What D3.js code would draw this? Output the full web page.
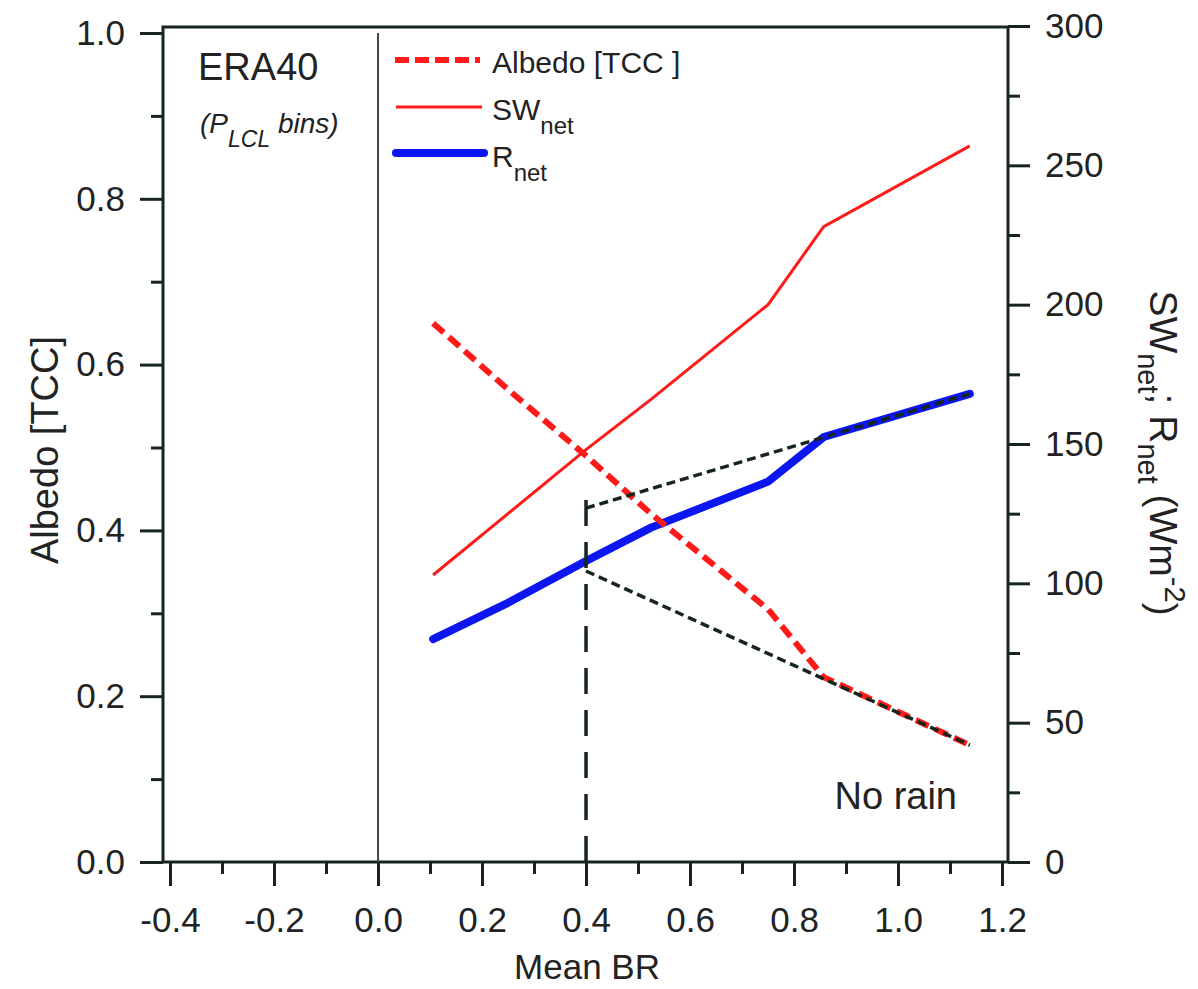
<!DOCTYPE html>
<html>
<head>
<meta charset="utf-8">
<script src="https://cdn.jsdelivr.net/npm/d3@7"></script>
<style>
  body { margin: 0; background: #fff; }
  svg { display: block; }
  text { font-family: "Liberation Sans", Arial, sans-serif; fill: #222; }
</style>
</head>
<body>
<svg id="chart" width="1198" height="989"></svg>
<script>
// ----- Data -----------------------------------------------------------------
var brBins    = [0.106, 0.25, 0.40, 0.525, 0.75, 0.857, 1.138];
var albedoTCC = [0.650, 0.570, 0.490, 0.420, 0.305, 0.223, 0.141];
var swNet     = [103, 125, 148, 166, 200, 228, 257];
var rNet      = [80, 93, 108, 120, 136.5, 152.5, 168];

// black dashed guide lines drawn from the BR = 0.4 split
var guideBR      = [0.40, 1.138];
var guideRnet    = [127, 168];
var guideAlbedo  = [0.351, 0.141];
var splitBR      = 0.4;
var splitTop     = 0.44;   // in albedo units

var xMajor      = [-0.4, -0.2, 0.0, 0.2, 0.4, 0.6, 0.8, 1.0, 1.2];
var xMinor      = [-0.3, -0.1, 0.1, 0.3, 0.5, 0.7, 0.9, 1.1];
var albedoMajor = [0.0, 0.2, 0.4, 0.6, 0.8, 1.0];
var albedoMinor = [0.1, 0.3, 0.5, 0.7, 0.9];
var fluxMajor   = [0, 50, 100, 150, 200, 250, 300];
var fluxMinor   = [25, 75, 125, 175, 225, 275];

var AXIS = '#17261d';
var RED = '#ff1a1a';
var BLUE = '#0b16f0';

var svg = d3.select('#chart');

// ----- Scales ---------------------------------------------------------------
var plotLeft = 163, plotRight = 1008, plotTop = 27, plotBottom = 862;
var x = d3.scaleLinear().domain([-0.4135, 1.2115]).range([plotLeft, plotRight]);
var yAlb = d3.scaleLinear().domain([0, 1]).range([plotBottom, 33]);
var yFlux = d3.scaleLinear().domain([0, 300]).range([plotBottom, 26]);

function styleAxis(g, size) {
  g.select('.domain').remove();
  g.selectAll('.tick line').attr('stroke', AXIS).attr('stroke-width', 3);
  g.selectAll('.tick text')
    .attr('font-size', size)
    .attr('font-family', '"Liberation Sans", Arial, sans-serif')
    .attr('fill', '#222');
}

// ----- Axes -----------------------------------------------------------------
svg.append('g')
    .attr('transform', 'translate(0,' + plotBottom + ')')
    .call(d3.axisBottom(x).tickValues(xMinor).tickSizeInner(12).tickSizeOuter(0).tickFormat(''))
    .call(styleAxis, 35);
svg.append('g')
    .attr('transform', 'translate(0,' + plotBottom + ')')
    .call(d3.axisBottom(x).tickValues(xMajor).tickSizeInner(24).tickSizeOuter(0)
      .tickPadding(21).tickFormat((d) => d.toFixed(1)))
    .call(styleAxis, 35);

svg.append('g')
    .attr('transform', 'translate(' + plotLeft + ',0)')
    .call(d3.axisLeft(yAlb).tickValues(albedoMinor).tickSizeInner(12).tickSizeOuter(0).tickFormat(''))
    .call(styleAxis, 35);
svg.append('g')
    .attr('transform', 'translate(' + plotLeft + ',0)')
    .call(d3.axisLeft(yAlb).tickValues(albedoMajor).tickSizeInner(23).tickSizeOuter(0)
      .tickPadding(15).tickFormat((d) => d.toFixed(1)))
    .call(styleAxis, 35);

svg.append('g')
    .attr('transform', 'translate(' + plotRight + ',0)')
    .call(d3.axisRight(yFlux).tickValues(fluxMinor).tickSizeInner(12).tickSizeOuter(0).tickFormat(''))
    .call(styleAxis, 35);
svg.append('g')
    .attr('transform', 'translate(' + plotRight + ',0)')
    .call(d3.axisRight(yFlux).tickValues(fluxMajor).tickSizeInner(22).tickSizeOuter(0)
      .tickPadding(15).tickFormat(d3.format('d')))
    .call(styleAxis, 35);

// frame
svg.append('rect')
    .attr('x', plotLeft).attr('y', plotTop)
    .attr('width', plotRight - plotLeft).attr('height', plotBottom - plotTop)
    .attr('fill', 'none').attr('stroke', AXIS).attr('stroke-width', 3);

// BR = 0 divider
svg.append('line')
    .attr('x1', x(0)).attr('x2', x(0))
    .attr('y1', yAlb(1)).attr('y2', plotBottom)
    .attr('stroke', '#3b4a42').attr('stroke-width', 2);

// ----- Series ---------------------------------------------------------------
var albLine = d3.line().x((d) => x(d[0])).y((d) => yAlb(d[1]));
var fluxLine = d3.line().x((d) => x(d[0])).y((d) => yFlux(d[1]));

svg.append('path')
    .datum(d3.zip(brBins, swNet))
    .attr('d', fluxLine)
    .attr('fill', 'none').attr('stroke', RED).attr('stroke-width', 3);

svg.append('path')
    .datum(d3.zip(brBins, rNet))
    .attr('d', fluxLine)
    .attr('fill', 'none').attr('stroke', BLUE).attr('stroke-width', 8)
    .attr('stroke-linecap', 'round').attr('stroke-linejoin', 'round');

svg.append('path')
    .datum(d3.zip(brBins, albedoTCC))
    .attr('d', albLine)
    .attr('fill', 'none').attr('stroke', RED).attr('stroke-width', 6)
    .attr('stroke-dasharray', '14,7');

// guides
svg.append('path')
    .datum(d3.zip(guideBR, guideRnet))
    .attr('d', fluxLine)
    .attr('fill', 'none').attr('stroke', AXIS).attr('stroke-width', 3.5)
    .attr('stroke-dasharray', '9,5');

svg.append('path')
    .datum(d3.zip(guideBR, guideAlbedo))
    .attr('d', albLine)
    .attr('fill', 'none').attr('stroke', AXIS).attr('stroke-width', 3.5)
    .attr('stroke-dasharray', '9,5');

svg.append('line')
    .attr('x1', x(splitBR)).attr('x2', x(splitBR))
    .attr('y1', plotBottom).attr('y2', yAlb(splitTop))
    .attr('stroke', AXIS).attr('stroke-width', 3.5)
    .attr('stroke-dasharray', '26,16');

// ----- Legend ---------------------------------------------------------------
var legend = svg.append('g');
legend.append('line').attr('x1', 395).attr('x2', 480).attr('y1', 60).attr('y2', 60)
    .attr('stroke', RED).attr('stroke-width', 6).attr('stroke-dasharray', '14,6');
legend.append('line').attr('x1', 396).attr('x2', 482).attr('y1', 107).attr('y2', 107)
    .attr('stroke', RED).attr('stroke-width', 3);
legend.append('line').attr('x1', 396).attr('x2', 484).attr('y1', 153).attr('y2', 153)
    .attr('stroke', BLUE).attr('stroke-width', 8).attr('stroke-linecap', 'round');

legend.append('text').attr('x', 492).attr('y', 73).attr('font-size', 30).text('Albedo [TCC ]');
var sw = legend.append('text').attr('x', 492).attr('y', 120).attr('font-size', 30);
sw.append('tspan').text('SW');
sw.append('tspan').attr('dy', 14).attr('font-size', 24).text('net');
var rn = legend.append('text').attr('x', 492).attr('y', 167).attr('font-size', 30);
rn.append('tspan').text('R');
rn.append('tspan').attr('dy', 14).attr('font-size', 24).text('net');

// ----- Annotations ----------------------------------------------------------
svg.append('text').attr('x', 198).attr('y', 80).attr('font-size', 38).text('ERA40');
var bins = svg.append('text').attr('x', 200).attr('y', 133)
    .attr('font-size', 28).attr('font-style', 'italic');
bins.append('tspan').text('(P');
bins.append('tspan').attr('dy', 14).attr('font-size', 23).text('LCL');
bins.append('tspan').attr('dy', -14).text(' bins)');

svg.append('text').attr('x', 957).attr('y', 809).attr('font-size', 38)
    .attr('text-anchor', 'end').text('No rain');

// axis titles
svg.append('text').attr('x', 587).attr('y', 979).attr('font-size', 35)
    .attr('text-anchor', 'middle').text('Mean BR');

svg.append('text')
    .attr('transform', 'translate(58,450) rotate(-90)')
    .attr('font-size', 38).attr('text-anchor', 'middle')
    .text('Albedo [TCC]');

var rt = svg.append('text')
    .attr('transform', 'translate(1150,453) rotate(90)')
    .attr('font-size', 39).attr('text-anchor', 'middle');
rt.append('tspan').text('SW');
rt.append('tspan').attr('dy', 12).attr('font-size', 29).text('net');
rt.append('tspan').attr('dy', -12).text('; R');
rt.append('tspan').attr('dy', 12).attr('font-size', 29).text('net');
rt.append('tspan').attr('dy', -12).text(' (Wm');
rt.append('tspan').attr('dy', -15).attr('font-size', 29).text('-2');
rt.append('tspan').attr('dy', 15).text(')');
</script>
</body>
</html>
